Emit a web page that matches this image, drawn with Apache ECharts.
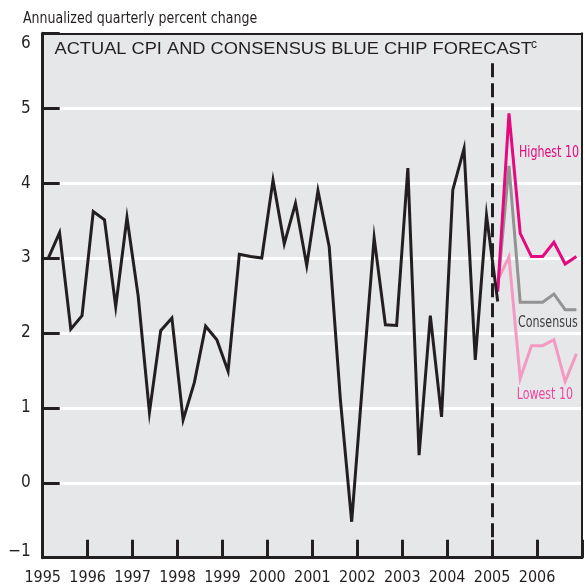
<!DOCTYPE html>
<html><head><meta charset="utf-8">
<script src="https://cdn.jsdelivr.net/npm/echarts@6.0.0/dist/echarts.min.js"></script>
<style>html,body{margin:0;padding:0;background:#fff}#c{width:585px;height:586px}</style>
</head><body><div id="c"></div>
<script>
// ---- data ----
const actualStartYear = 1995; // first quarter = 1995 Q1
const actualCPI = [
  3.00, 3.34, 2.05, 2.23,
  3.62, 3.51, 2.35, 3.54,
  2.49, 0.94, 2.03, 2.20,
  0.84, 1.34, 2.09, 1.91,
  1.49, 3.05, 3.02, 3.00,
  4.04, 3.19, 3.73, 2.90,
  3.90, 3.15, 1.10, -0.52,
  1.40, 3.27, 2.11, 2.10,
  4.20, 0.37, 2.23, 0.88,
  3.91, 4.46, 1.64, 3.57,
  2.42
];
const forecastStartYear = 2005; // first quarter = 2005 Q1
const highest10 = [2.55, 4.93, 3.33, 3.02, 3.02, 3.21, 2.92, 3.02];
const consensus = [2.60, 4.23, 2.41, 2.41, 2.41, 2.52, 2.31, 2.31];
const lowest10  = [2.70, 3.02, 1.39, 1.83, 1.83, 1.91, 1.35, 1.72];
const forecastLine = 2005;
const yearLabels = [1995,1996,1997,1998,1999,2000,2001,2002,2003,2004,2005,2006];
const yMin = -1, yMax = 6;
const dashTop = 5.6; // where the forecast divider starts (below the title)

// ---- helpers ----
function toPoints(startYear, vals) {
  return vals.map((v, i) => [startYear + (i + 0.5) / 4, v]);
}
const INK = '#231F20';
const NARROW = "'DejaVu Sans Condensed','Liberation Sans Narrow',sans-serif";
const SANS = "'Liberation Sans',Arial,Helvetica,sans-serif";

const chart = echarts.init(document.getElementById('c'), null, {renderer: 'canvas'});
const lineBase = (name, data, color, z) => ({
  name, type: 'line', data, symbol: 'none', showSymbol: false, smooth: false,
  z, animation: false, silent: true,
  lineStyle: {color, width: 3, join: 'miter', cap: 'butt'}
});

chart.setOption({
  animation: false,
  backgroundColor: '#fff',
  grid: {left: 42.7, right: 3, top: 33.3, bottom: 28.3, show: true,
         backgroundColor: '#E6E7E8', borderWidth: 0, outerBoundsMode: 'none'},
  xAxis: [{
    type: 'value', min: 1995, max: 2007, interval: 1, position: 'bottom',
    axisLine: {show: true, onZero: false, lineStyle: {color: INK, width: 3}},
    axisTick: {show: true, inside: true, length: 18, lineStyle: {color: INK, width: 3}},
    splitLine: {show: false},
    axisLabel: {
      show: true, margin: 12, fontSize: 16, fontFamily: NARROW, color: INK,
      showMinLabel: true, showMaxLabel: true, hideOverlap: false,
      formatter: v => (yearLabels.indexOf(v) >= 0 ? String(v) : '')
    }
  }, {
    type: 'value', min: 1995, max: 2007, position: 'top',
    axisLine: {show: true, onZero: false, lineStyle: {color: INK, width: 2}},
    axisTick: {show: false}, axisLabel: {show: false}, splitLine: {show: false}
  }],
  yAxis: [{
    type: 'value', min: yMin, max: yMax, interval: 1, position: 'left',
    axisLine: {show: true, onZero: false, lineStyle: {color: INK, width: 3}},
    axisTick: {show: true, inside: true, length: 17, lineStyle: {color: INK, width: 3}},
    splitLine: {show: true, lineStyle: {color: '#FFFFFF', width: 3}},
    axisLabel: {
      show: true, margin: 12, fontSize: 17, fontFamily: NARROW, color: INK,
      showMinLabel: true, showMaxLabel: true, hideOverlap: false,
      formatter: v => v === yMax ? '{t|' + v + '}' : (v === yMin ? '{b|\u2212' + Math.abs(v) + '}' : (v < 0 ? '\u2212' + Math.abs(v) : String(v))),
      rich: {
        t: {fontSize: 17, fontFamily: NARROW, color: INK, padding: [20, 0, 0, 0]},
        b: {fontSize: 17, fontFamily: NARROW, color: INK, padding: [0, 0, 12, 0]}
      }
    }
  }, {
    type: 'value', min: yMin, max: yMax, position: 'right',
    axisLine: {show: true, onZero: false, lineStyle: {color: INK, width: 2}},
    axisTick: {show: false}, axisLabel: {show: false}, splitLine: {show: false}
  }],
  series: [
    lineBase('Lowest 10', toPoints(forecastStartYear, lowest10), '#F49AC2', 3),
    lineBase('Consensus', toPoints(forecastStartYear, consensus), '#939393', 4),
    lineBase('Highest 10', toPoints(forecastStartYear, highest10), '#E5087E', 5),
    Object.assign(lineBase('Actual CPI', toPoints(actualStartYear, actualCPI), INK, 6), {
      markLine: {
        silent: true, symbol: ['none', 'none'], label: {show: false},
        lineStyle: {color: INK, width: 3, type: [14, 6]},
        data: [[{coord: [forecastLine, dashTop]}, {coord: [forecastLine, yMin]}]]
      }
    })
  ],
  graphic: [
    {type: 'text', x: 23, y: 19.2, scaleX: 0.876, z: 100,
     style: {text: 'Annualized quarterly percent change', font: '16px ' + NARROW, fill: INK, verticalAlign: 'middle'}},
    {type: 'text', x: 54.5, y: 49.2, scaleX: 1.073, z: 100,
     style: {text: 'ACTUAL CPI AND CONSENSUS BLUE CHIP FORECAST', font: '17px ' + SANS, fill: INK, verticalAlign: 'middle'}},
    {type: 'text', x: 531, y: 44.5, z: 100,
     style: {text: 'c', font: '12px ' + SANS, fill: INK, verticalAlign: 'middle'}},
    {type: 'text', x: 519, y: 153, scaleX: 0.77, z: 100,
     style: {text: 'Highest 10', font: '16px ' + NARROW, fill: '#E5087E', verticalAlign: 'middle'}},
    {type: 'text', x: 518, y: 323, scaleX: 0.77, z: 100,
     style: {text: 'Consensus', font: '16px ' + NARROW, fill: '#3C3C3C', verticalAlign: 'middle'}},
    {type: 'text', x: 516.7, y: 395, scaleX: 0.77, z: 100,
     style: {text: 'Lowest 10', font: '16px ' + NARROW, fill: '#EA4A9E', verticalAlign: 'middle'}}
  ]
});
</script>
</body></html>
